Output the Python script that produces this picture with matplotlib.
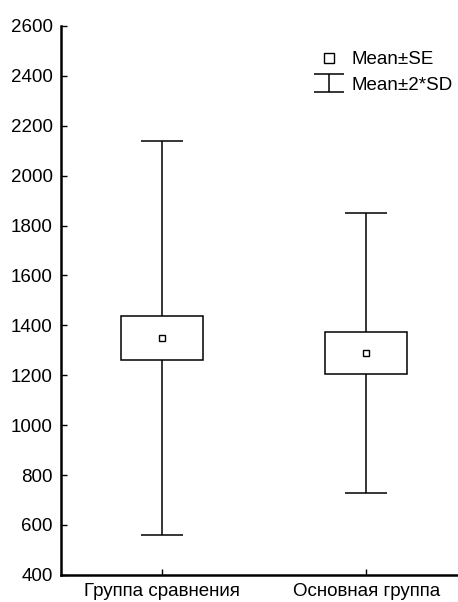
import matplotlib.pyplot as plt
from matplotlib.lines import Line2D

plt.rcParams['font.family'] = ['Liberation Sans', 'DejaVu Sans']

# данные: среднее, ошибка среднего, стандартное отклонение
groups = ['Группа сравнения', 'Основная группа']
means = [1350, 1289]
se = [88, 84]
sd = [395, 281]
yticks = [400, 600, 800, 1000, 1200, 1400, 1600, 1800, 2000, 2200, 2400, 2600]

fig = plt.figure(figsize=(4.58, 6.02), dpi=100)
ax = fig.add_axes([0.133, 0.045, 0.867, 0.912])

pos = list(range(len(groups)))

# whiskers: mean +- 2*SD
ax.errorbar(pos, means, yerr=[2 * s for s in sd], fmt='none', ecolor='black',
            elinewidth=1.1, capsize=14.8, capthick=1.1, zorder=1)
# boxes: mean +- SE
ax.bar(pos, [2 * s for s in se], bottom=[m - s for m, s in zip(means, se)],
       width=0.4, color='white', edgecolor='black', linewidth=1.1, zorder=2)
# mean markers
ax.plot(pos, means, 's', markersize=5, markerfacecolor='white',
        markeredgecolor='black', markeredgewidth=1.0, zorder=3)

ax.set_xlim(-0.495, 1.45)
ax.set_ylim(400, 2600)
ax.set_yticks(yticks)
ax.set_xticks(pos)
ax.set_xticklabels(groups)

for side in ['top', 'right']:
    ax.spines[side].set_visible(False)
ax.spines['left'].set_linewidth(1.8)
ax.spines['bottom'].set_linewidth(1.8)
ax.tick_params(axis='both', direction='in', length=4.5, width=1.0,
               labelsize=13.5, colors='black')
ax.tick_params(axis='y', pad=6)
ax.tick_params(axis='x', pad=6)

# legend (the SD handle sits outside the visible x range, only used for its look)
h_se = Line2D([], [], linestyle='none', marker='s', markersize=7,
              markerfacecolor='white', markeredgecolor='black', markeredgewidth=1.0)
h_sd = ax.errorbar([-10], [1000], yerr=[1], fmt='none', ecolor='black',
                   elinewidth=1.1, capsize=10.5, capthick=1.1)
leg = ax.legend([h_se, h_sd], ['Mean±SE', 'Mean±2*SD'], loc='upper right',
                bbox_to_anchor=(1.03, 0.985), frameon=False, fontsize=13.5,
                handlelength=1.5, handletextpad=0.45, labelspacing=0.45)

fig.savefig('out.png', dpi=100)
